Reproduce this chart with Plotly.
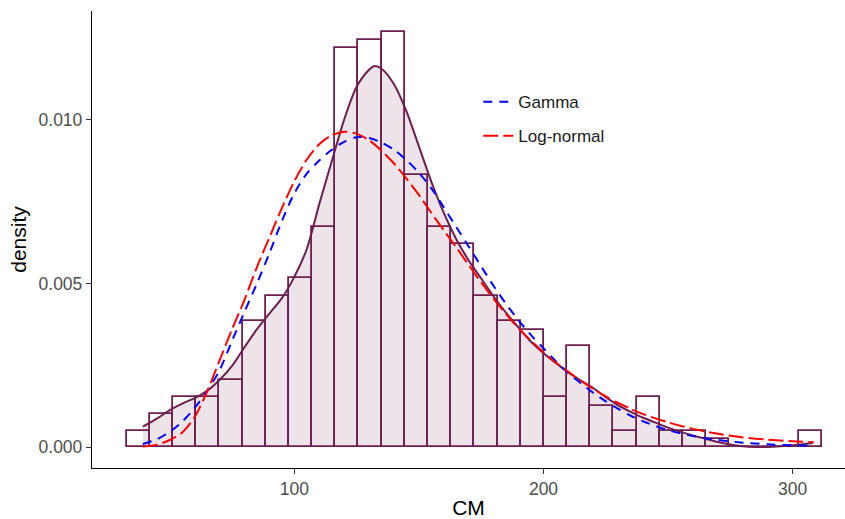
import plotly.graph_objects as go

# Histogram of CM (density scale): 30 bins of equal width
BIN_START = 32.75
BIN_WIDTH = 9.30
HIST_DENSITY = [
    0.00050, 0.00100, 0.00153, 0.00153, 0.00204, 0.00386, 0.00463, 0.00516,
    0.00673, 0.01218, 0.01242, 0.01268, 0.00830, 0.00673, 0.00620, 0.00463,
    0.00386, 0.00359, 0.00153, 0.00308, 0.00127, 0.00050, 0.00153, 0.00050,
    0.00050, 0.00025, 0.0, 0.0, 0.0, 0.00050,
]

# Kernel density estimate
KDE_X = [39.2, 45, 50, 55, 60, 65, 70, 75, 80, 85, 90, 95, 100, 105, 110, 115,
         120, 125, 130, 132, 135, 140, 145, 150, 155, 160, 165, 170, 175, 180,
         185, 190, 195, 200, 205, 210, 215, 220, 225, 230, 235, 240, 245, 250,
         255, 260, 265, 270, 275, 280, 285, 290, 295, 300, 305, 308]
KDE_Y = [0.00063, 0.00088, 0.00113, 0.00133, 0.00150, 0.00172, 0.00205, 0.00248,
         0.00305, 0.00360, 0.00408, 0.00455, 0.00520, 0.00605, 0.00742, 0.00872,
         0.01000, 0.01100, 0.01152, 0.01163, 0.01155, 0.01108, 0.01025, 0.00918,
         0.00810, 0.00715, 0.00635, 0.00570, 0.00515, 0.00460, 0.00410, 0.00365,
         0.00322, 0.00287, 0.00257, 0.00228, 0.00203, 0.00180, 0.00153, 0.00128,
         0.00108, 0.00090, 0.00075, 0.00060, 0.00047, 0.00036, 0.00026, 0.00016,
         0.00008, 0.00003, 0.00001, 0.00001, 0.00003, 0.00006, 0.00010, 0.00013]

# Fitted Gamma density
GAMMA_X = [39.2, 45, 50, 55, 60, 65, 70, 75, 80, 85, 90, 95, 100, 105, 110, 115,
           120, 125, 130, 135, 140, 145, 150, 155, 160, 165, 170, 175, 180, 185,
           190, 195, 200, 205, 210, 215, 220, 225, 230, 235, 240, 250, 260, 270,
           280, 290, 300, 307.5]
GAMMA_Y = [0.00010, 0.00025, 0.00047, 0.00078, 0.00120, 0.00172, 0.00235, 0.00325,
           0.00413, 0.00500, 0.00592, 0.00690, 0.00775, 0.00835, 0.00875, 0.00908,
           0.00932, 0.00946, 0.00944, 0.00930, 0.00908, 0.00876, 0.00838, 0.00790,
           0.00732, 0.00672, 0.00612, 0.00552, 0.00492, 0.00437, 0.00387, 0.00342,
           0.00302, 0.00262, 0.00226, 0.00195, 0.00166, 0.00140, 0.00117, 0.00096,
           0.00079, 0.00052, 0.00034, 0.00022, 0.00014, 0.00009, 0.00006, 0.00005]

# Fitted Log-normal density
LNORM_X = [39.2, 45, 50, 55, 60, 65, 70, 75, 80, 85, 90, 95, 100, 105, 110, 115,
           120, 125, 130, 135, 140, 145, 150, 155, 160, 165, 170, 175, 180, 185,
           190, 195, 200, 205, 210, 215, 220, 225, 230, 235, 240, 250, 260, 270,
           280, 290, 300, 308.5]
LNORM_Y = [0.00002, 0.00008, 0.00022, 0.00045, 0.00092, 0.00170, 0.00265, 0.00360,
           0.00450, 0.00550, 0.00640, 0.00730, 0.00812, 0.00878, 0.00925, 0.00952,
           0.00963, 0.00957, 0.00937, 0.00905, 0.00866, 0.00820, 0.00770, 0.00715,
           0.00662, 0.00610, 0.00556, 0.00503, 0.00453, 0.00406, 0.00363, 0.00325,
           0.00290, 0.00258, 0.00230, 0.00203, 0.00178, 0.00155, 0.00135, 0.00117,
           0.00101, 0.00076, 0.00056, 0.00041, 0.00030, 0.00023, 0.00018, 0.00015]

X_TICKS = [100, 200, 300]
Y_TICKS = [0.000, 0.005, 0.010]

MAROON = "#6E1F50"
FONT = "Liberation Sans, Arial, sans-serif"

centers = [BIN_START + BIN_WIDTH * (i + 0.5) for i in range(len(HIST_DENSITY))]

fig = go.Figure()

fig.add_trace(go.Bar(
    x=centers, y=HIST_DENSITY, width=BIN_WIDTH,
    marker=dict(color="white", line=dict(color=MAROON, width=1.8)),
    showlegend=False, hoverinfo="skip",
))

fig.add_trace(go.Scatter(
    x=KDE_X, y=KDE_Y, mode="lines",
    line=dict(color=MAROON, width=2, shape="spline", smoothing=0.8),
    fill="tozeroy", fillcolor="rgba(111,30,81,0.12)",
    showlegend=False, hoverinfo="skip",
))

fig.add_trace(go.Scatter(
    x=GAMMA_X, y=GAMMA_Y, mode="lines", name="Gamma", legendgroup="gamma",
    line=dict(color="#0000FF", width=2, dash="9px,7px", shape="spline", smoothing=0.8),
))

fig.add_trace(go.Scatter(
    x=LNORM_X, y=LNORM_Y, mode="lines", name="Log-normal", legendgroup="lnorm",
    line=dict(color="#FF0000", width=2, dash="15px,5px", shape="spline", smoothing=0.8),
))

axis_common = dict(
    showline=True, linecolor="black", linewidth=1.3,
    ticks="outside", ticklen=5, tickwidth=1.3, tickcolor="#333333",
    tickfont=dict(family=FONT, size=17.5, color="#4D4D4D"),
    showgrid=False, zeroline=False, automargin=False,
)

fig.update_layout(
    width=845, height=519,
    margin=dict(l=92, r=0, t=11, b=51),
    paper_bgcolor="white", plot_bgcolor="white",
    bargap=0,
    font=dict(family=FONT, color="black"),
    xaxis=dict(
        range=[18.8, 321.0], tickvals=X_TICKS,
        title=dict(text="CM", font=dict(family=FONT, size=21, color="black"), standoff=4),
        **axis_common,
    ),
    yaxis=dict(
        range=[-0.000634, 0.013314], tickvals=Y_TICKS, tickformat=".3f",
        title=dict(text="density", font=dict(family=FONT, size=21, color="black"), standoff=6),
        **axis_common,
    ),
    legend=dict(
        x=0.513, y=0.840, xanchor="left", yanchor="top",
        bgcolor="rgba(0,0,0,0)", borderwidth=0,
        font=dict(family=FONT, size=17, color="#1A1A1A"),
        tracegroupgap=9,
    ),
)

fig.write_html("out.html")
